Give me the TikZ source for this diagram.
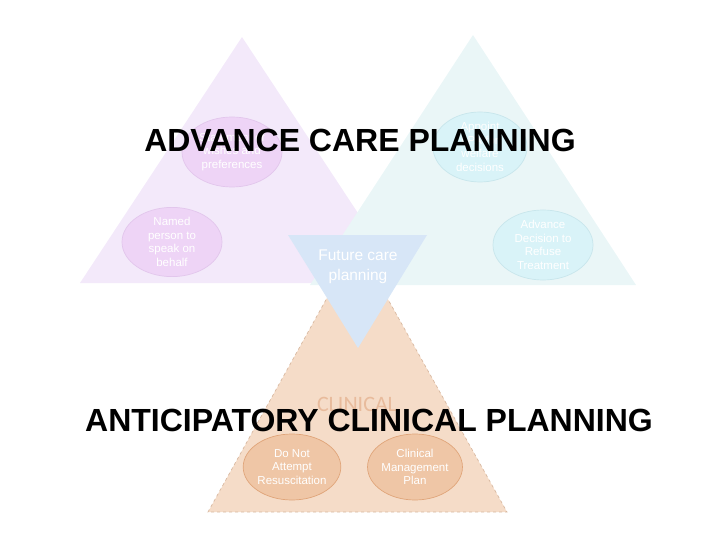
\documentclass[tikz,border=0pt]{standalone}
\usepackage{fontspec}
\setmainfont{Liberation Sans}
\newfontfamily\calibfont{Carlito}
\usetikzlibrary{shapes.geometric}
\definecolor{purtri}{HTML}{F3E9FA}
\definecolor{purell}{HTML}{EED4F6}
\definecolor{purline}{HTML}{E2C6EC}
\definecolor{teatri}{HTML}{EAF6F7}
\definecolor{teaell}{HTML}{D9F3F8}
\definecolor{tealine}{HTML}{C8E6EC}
\definecolor{blutri}{HTML}{D7E6F7}
\definecolor{oratri}{HTML}{F5DCC8}
\definecolor{oradash}{HTML}{D8B8A0}
\definecolor{oraell}{HTML}{EFC6A6}
\definecolor{oraline}{HTML}{E0A57A}
\definecolor{clintext}{HTML}{E8BB9C}
\begin{document}
\begin{tikzpicture}[x=1pt,y=-1pt,
  bubble/.style={ellipse, inner sep=0pt, text=white, align=center,
    font=\fontsize{11.5}{13.5}\selectfont, line width=0.7pt},
  title/.style={font=\bfseries\fontsize{32}{36}\selectfont, text=black, anchor=base, inner sep=0pt}]
\path[use as bounding box] (0,0) rectangle (720,540);
% triangles
\fill[purtri] (242,37) -- (404,283) -- (80,283) -- cycle;
\fill[teatri] (473,35) -- (636,285) -- (310,285) -- cycle;
\fill[oratri] (357,244) -- (507,512) -- (208,512) -- cycle;
\draw[oradash, dashed, line width=0.7pt] (357,244) -- (507,512) -- (208,512) -- cycle;
\fill[blutri] (288,235) -- (427,235) -- (358,348) -- cycle;
% bubbles
\node[bubble, fill=purell, draw=purline, minimum width=100pt, minimum height=70pt] (pref) at (232,152) {Statement of\\wishes and\\preferences};
\node[bubble, fill=purell, draw=purline, minimum width=100pt, minimum height=60pt] (named) at (172,242) {Named\\person to\\speak on\\behalf};
\node[bubble, fill=teaell, draw=tealine, minimum width=94pt, minimum height=70pt] (lpa) at (480,147) {Appoint\\LPA for\\welfare\\decisions};
\node[bubble, fill=teaell, draw=tealine, minimum width=100pt, minimum height=70pt] (adrt) at (543,245) {Advance\\Decision to\\Refuse\\Treatment};
\node[bubble, fill=oraell, draw=oraline, minimum width=88pt, minimum height=66pt] (dnar) at (292,467) {Do Not\\Attempt\\Resuscitation};
\node[bubble, fill=oraell, draw=oraline, minimum width=90pt, minimum height=66pt] (cmp) at (415,467) {Clinical\\Management\\Plan};
% labels
\node[text=white, align=center, font=\fontsize{15.5}{20}\selectfont] (fcp) at (358,267) {Future care\\planning};
\node[text=clintext, anchor=base, inner sep=0pt, font=\calibfont\fontsize{22}{24}\selectfont] (clin) at (357,411) {CLINICAL};
\node[title] (acp) at (360,152) {ADVANCE CARE PLANNING};
\node[title] (anp) at (369,431) {ANTICIPATORY CLINICAL PLANNING};
\end{tikzpicture}
\end{document}
